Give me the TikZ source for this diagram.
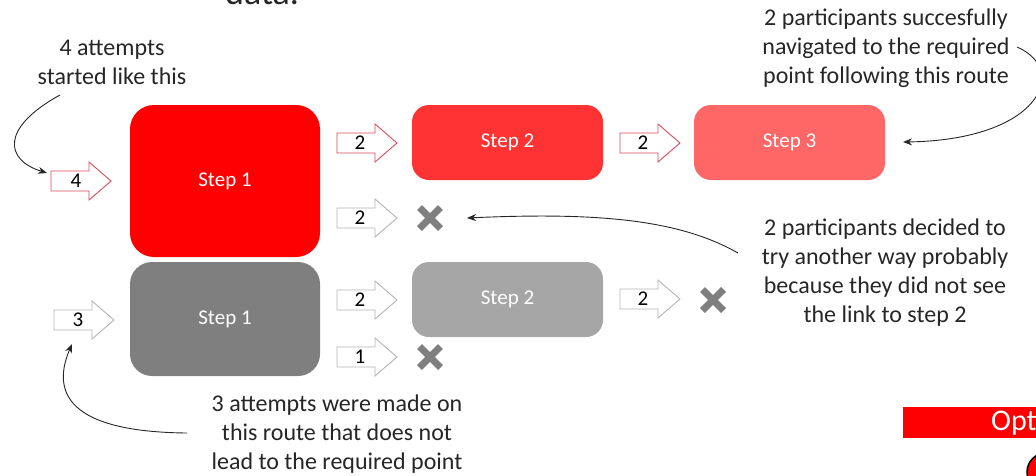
\documentclass[tikz,border=0pt]{standalone}
\usepackage{fontspec}
\setmainfont{Carlito}
\usetikzlibrary{arrows.meta}

\definecolor{stepA}{HTML}{FF0000}
\definecolor{stepB}{HTML}{FF3333}
\definecolor{stepC}{HTML}{FF6666}
\definecolor{greyA}{HTML}{7F7F7F}
\definecolor{greyB}{HTML}{A6A6A6}
\definecolor{redline}{HTML}{DC4A5E}
\definecolor{greyline}{HTML}{B4B4B4}
\definecolor{ink}{HTML}{262626}

\tikzset{
  stepbox/.style={rounded corners=#1, fill=stepA, inner sep=0pt, text=white,
    font=\fontsize{21}{25}\selectfont},
  note/.style={align=center, text=ink, inner sep=0pt, font=\fontsize{24}{29}\selectfont},
  num/.style={inner sep=0pt, text=black, font=\fontsize{21}{24}\selectfont},
  conn/.style={draw=ink, line width=0.9pt, -{Stealth[length=9pt,width=7pt]}},
  barrow/.pic={
    \draw[line width=0.9pt, fill=white, pic actions]
      (0,-10) -- (38,-10) -- (38,-19) -- (60,0) -- (38,19) -- (38,10) -- (0,10) -- cycle;
  },
  cross/.pic={
    \draw[greyA, line width=7pt] (-10.5,-10.5) -- (10.5,10.5) (-10.5,10.5) -- (10.5,-10.5);
  },
}

\begin{document}
\begin{tikzpicture}[x=1pt,y=-1pt]
\useasboundingbox (0,0) rectangle (1036,475);
\clip (0,0) rectangle (1036,475);

% heading fragment at the top edge
\node[anchor=base west, text=ink, inner sep=0pt, font=\fontsize{36}{40}\selectfont] (head) at (225,4) {data.};

% step boxes
\node[stepbox=24pt, fill=stepA, minimum width=190pt, minimum height=152pt] (s1) at (225,181) {Step 1};
\node[stepbox=17pt, fill=stepB, minimum width=191pt, minimum height=75pt] (s2) at (507.5,142.5) {Step 2};
\node[stepbox=17pt, fill=stepC, minimum width=191pt, minimum height=75pt] (s3) at (789.5,142.5) {Step 3};
\node[stepbox=22pt, fill=greyA, minimum width=190pt, minimum height=114pt] (g1) at (225,319) {Step 1};
\node[stepbox=17pt, fill=greyB, minimum width=191pt, minimum height=75pt] (g2) at (507.5,299.5) {Step 2};

% block arrows with counts
\pic[draw=redline] at (51,181) {barrow};
\node[num] (n4) at (76,181) {4};
\pic[draw=redline] at (337,143) {barrow};
\node[num] (n12) at (360,143) {2};
\pic[draw=redline] at (620,143) {barrow};
\node[num] (n23) at (643,143) {2};
\pic[draw=greyline] at (337,218) {barrow};
\node[num] (n1x) at (360,218) {2};
\pic[draw=greyline] at (54,320) {barrow};
\node[num] (n3) at (78,320) {3};
\pic[draw=greyline] at (337,300) {barrow};
\node[num] (m12) at (360,300) {2};
\pic[draw=greyline] at (337,357) {barrow};
\node[num] (m1x) at (360,357) {1};
\pic[draw=greyline] at (620,299) {barrow};
\node[num] (m2x) at (643,299) {2};

% dead ends
\coordinate (x1) at (430,218);
\coordinate (x2) at (430,357);
\coordinate (x3) at (713,300);
\pic at (x1) {cross};
\pic at (x2) {cross};
\pic at (x3) {cross};

% annotations
\node[note] (tA) at (112,62) {4 attempts\\started like this};
\node[note] (tB) at (886,48) {2 participants succesfully\\navigated to the required\\point following this route};
\node[note] (tC) at (885,273) {2 participants decided to\\try another way probably\\because they did not see\\the link to step 2};
\node[note] (tD) at (337,434) {3 attempts were made on\\this route that does not\\lead to the required point};

% callout connectors
\coordinate (cA0) at (60,95);
\coordinate (cA1) at (47,173);
\coordinate (cB0) at (1017,47);
\coordinate (cB1) at (903,142);
\coordinate (cC0) at (738,253);
\coordinate (cC1) at (467,218);
\coordinate (cD0) at (187,433);
\coordinate (cD1) at (72,344);
\draw[conn] (cA0) .. controls (0,128) and (5,160) .. (cA1);
\draw[conn] (cB0) .. controls (1070,70) and (1040,140) .. (cB1);
\draw[conn] (cC0) .. controls (680,220) and (600,212) .. (cC1);
\draw[conn] (cD0) .. controls (80,432) and (48,400) .. (cD1);

% footer fragments at the lower right edge
\fill[stepA] (903,407) rectangle (1040,438);
\node[anchor=west, text=white, inner sep=0pt, font=\fontsize{30}{34}\selectfont] (opt) at (991,423) {Opti};
\draw[fill=stepA, line width=1.5pt] (1046,472) circle (19);
\end{tikzpicture}
\end{document}
